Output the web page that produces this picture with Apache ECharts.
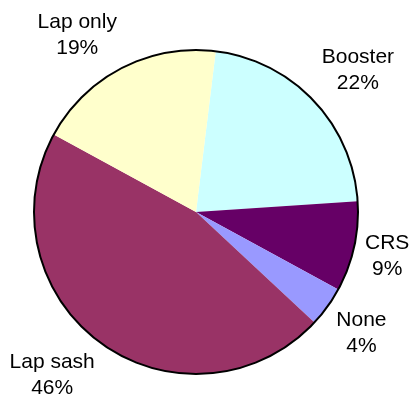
<!DOCTYPE html>
<html>
<head>
<meta charset="utf-8">
<script src="https://cdn.jsdelivr.net/npm/echarts@6/dist/echarts.min.js"></script>
<style>
  html, body { margin: 0; padding: 0; background: #fff; }
  #chart { width: 409px; height: 403px; }
</style>
</head>
<body>
<div id="chart"></div>
<script>
// restraint types, clockwise from just past 12 o'clock
const names = ['Booster', 'CRS', 'None', 'Lap sash', 'Lap only']
const shares = [22, 9, 4, 46, 19]
const colors = ['#CCFFFF', '#660066', '#9999FF', '#993366', '#FFFFCC']

const CX = 196
const CY = 212
const R = 162
const START = 7 // degrees clockwise from 12 o'clock
const GAP = 11
const INK_PAD = 3 // empty space above/below the glyphs inside a label box

const total = shares.reduce((s, v) => s + v, 0)
const clamp = (v) => Math.max(-1, Math.min(1, v))

// anchor on the slice's mid angle just outside the rim,
// then hang the label box off it away from the pie (like Excel)
const placeLabel = (params) => {
  const i = params.dataIndex
  let before = 0
  for (let k = 0; k < i; k++) before += shares[k]
  const mid = (START + (before + shares[i] / 2) / total * 360) * Math.PI / 180
  const dx = Math.sin(mid)
  const dy = -Math.cos(mid)
  const ax = CX + dx * (R + GAP)
  const ay = CY + dy * (R + GAP)
  const a = params.labelRect.width / 2
  const b = params.labelRect.height / 2 - INK_PAD
  const sx = clamp(dx * 4)
  const sy = clamp(dy * 1.5)
  return { x: ax + sx * a, y: ay + sy * b, align: 'center', verticalAlign: 'middle' }
}

const chart = echarts.init(document.getElementById('chart'), null, { renderer: 'canvas' })

chart.setOption({
  animation: false,
  backgroundColor: '#fff',
  color: colors,
  series: [
    {
      type: 'pie',
      center: [CX, CY],
      radius: R,
      startAngle: 90 - START,
      clockwise: true,
      avoidLabelOverlap: false,
      silent: true,
      itemStyle: { borderWidth: 0 },
      label: {
        show: true,
        position: 'outside',
        fontFamily: 'Liberation Sans, Arial, sans-serif',
        fontSize: 21,
        lineHeight: 26,
        color: '#000',
        formatter: (p) => p.name + '\n' + Math.round(p.percent) + '%'
      },
      labelLine: { show: false },
      labelLayout: placeLabel,
      data: names.map((n, i) => ({ name: n, value: shares[i] }))
    },
    {
      // black rim
      type: 'pie',
      center: [CX, CY],
      radius: R,
      silent: true,
      label: { show: false },
      labelLine: { show: false },
      itemStyle: { color: 'rgba(0,0,0,0)', borderColor: '#000', borderWidth: 2 },
      data: [{ name: 'rim', value: 1 }]
    }
  ]
})
</script>
</body>
</html>
